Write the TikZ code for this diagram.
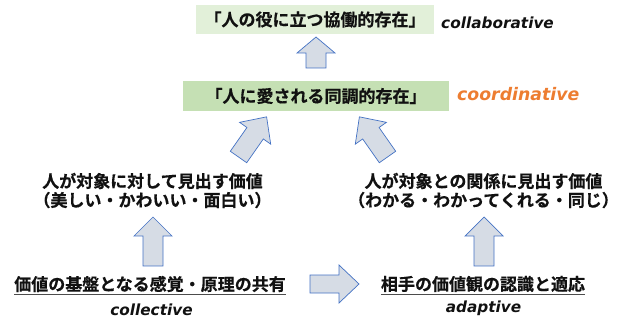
\documentclass[tikz,border=0pt]{standalone}
\usepackage{fontspec}
\newfontfamily\jp{Noto Sans CJK JP}[BoldFont={Noto Sans CJK JP Bold}, BoldFeatures={FakeBold=0.5}]
\newfontfamily\lat{DejaVu Sans}
\definecolor{boxA}{HTML}{E2F0D9}
\definecolor{boxB}{HTML}{C5E0B4}
\definecolor{arrfill}{HTML}{D6DCE5}
\definecolor{arrline}{HTML}{4472C4}
\definecolor{orng}{HTML}{ED7D31}
\definecolor{txt}{HTML}{111111}
\tikzset{
  jptext/.style={font=\jp\bfseries\fontsize{17}{19}\selectfont, text=txt, inner sep=0pt, align=center},
  lattext/.style={font=\lat\bfseries\itshape\fontsize{15.3}{17}\selectfont, text=txt, inner sep=0pt},
  blockarrow/.style={fill=arrfill, draw=arrline, line width=0.7pt, line join=miter},
  ulinestyle/.style={draw=black!70, line width=1.3pt}
}
\newcommand\bkarrow[6]{%
  \draw[blockarrow,shift={(#1,#2)},rotate=#3]
    (0,-#6) -- ({#4-#5},-#6) -- ({#4-#5},-19) -- (#4,0) -- ({#4-#5},19) -- ({#4-#5},#6) -- (0,#6) -- cycle;}
\begin{document}
\begin{tikzpicture}[x=1pt,y=-1pt]
\useasboundingbox (0,0) rectangle (618,320);
% boxes
\node[jptext, fill=boxA, minimum width=238pt, minimum height=29pt] (top) at (315,19.5) {「人の役に立つ協働的存在」};
\node[lattext, anchor=base west] (collab) at (441,29) {collaborative};
\node[jptext, fill=boxB, minimum width=266pt, minimum height=30pt] (mid) at (316,96) {「人に愛される同調的存在」};
\node[lattext, text=orng, font=\lat\bfseries\itshape\fontsize{17.3}{19}\selectfont, anchor=base west] (coord) at (457,101) {coordinative};
% middle texts
\node[jptext] (vl) at (152.5,190.5) {人が対象に対して見出す価値\\（美しい・かわいい・面白い）};
\node[jptext] (vr) at (483.5,190.5) {人が対象との関係に見出す価値\\（わかる・わかってくれる・同じ）};
% bottom texts
\node[jptext] (bl) at (150,284) {価値の基盤となる感覚・原理の共有};
\draw[ulinestyle] ([yshift=-2.5pt]bl.south west) -- ([yshift=-2.5pt]bl.south east);
\node[jptext] (br) at (483,284) {相手の価値観の認識と適応};
\draw[ulinestyle] ([yshift=-2.5pt]br.south west) -- ([yshift=-2.5pt]br.south east);
\node[lattext, anchor=base] (colle) at (151.5,315) {collective};
\node[lattext, anchor=base] (adapt) at (483.5,312) {adaptive};
% block arrows
\bkarrow{316}{68}{90}{31}{16}{10}
\bkarrow{238.5}{157}{55}{49}{20}{10}
\bkarrow{387.5}{157}{125}{49}{20}{10}
\bkarrow{153}{266}{90}{49}{19}{10}
\bkarrow{484}{266}{90}{49}{19}{10}
\bkarrow{310}{284}{0}{49}{20}{9}
\end{tikzpicture}
\end{document}
